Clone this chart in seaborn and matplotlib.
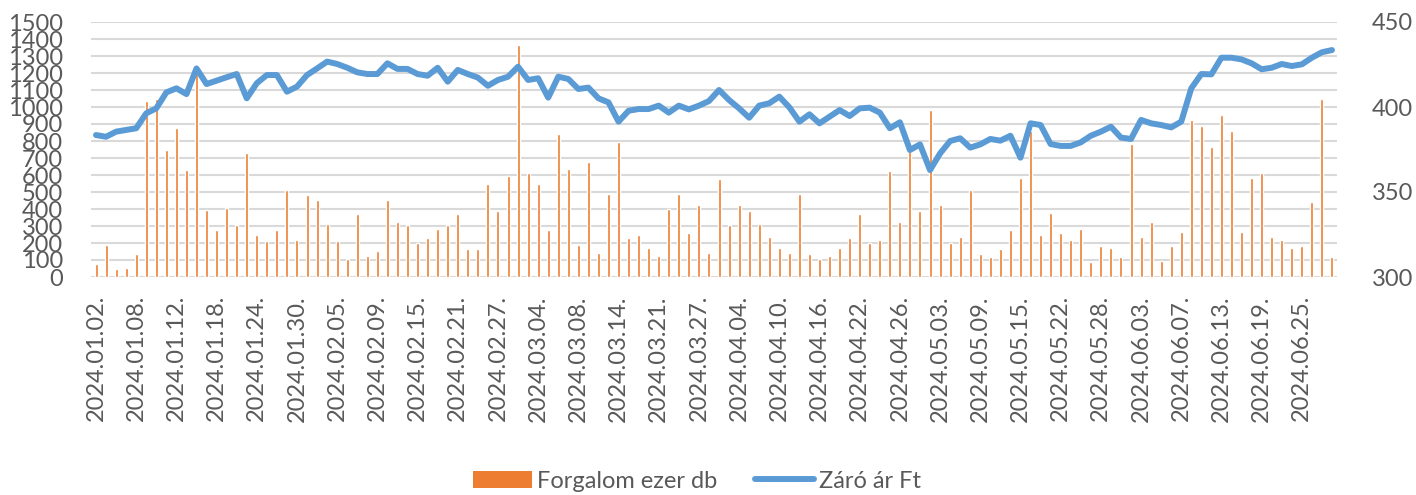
import numpy as np
import pandas as pd
import matplotlib
matplotlib.use("Agg")
import matplotlib.pyplot as plt
import seaborn as sns
from matplotlib.patches import Patch
from matplotlib.lines import Line2D

# ---- data ----
holidays = ["2024-01-01", "2024-03-15", "2024-03-29", "2024-04-01", "2024-05-01", "2024-05-20"]
days = pd.bdate_range("2024-01-02", "2024-06-28")
days = [d for d in days if d.strftime("%Y-%m-%d") not in holidays]
date_labels = [d.strftime("%Y.%m.%d.") for d in days]

volume = [75, 190, 50, 55, 135, 1035, 1045, 745, 875, 630, 1220, 395, 275, 405, 305, 728, 247, 210, 275, 512,
          218, 482, 453, 312, 210, 106, 369, 124, 153, 453, 322, 304, 200, 227, 284, 304, 369, 163, 163, 547, 388,
          594, 1365, 612, 547, 275, 839, 633, 190, 679, 143, 490, 792, 227, 247, 171, 125, 398, 490, 257, 426,
          143, 577, 304, 426, 388, 312, 237, 171, 143, 490, 133, 106, 124, 171, 227, 369, 200, 218, 624, 322, 740, 388,
          980, 426, 200, 237, 512, 133, 116, 163, 275, 584, 860, 247, 378, 257, 218, 284, 86, 182, 171, 116, 780,
          237, 322, 96, 182, 265, 924, 888, 765, 953, 859, 265, 584, 614, 237, 218, 171, 182, 443, 1045, 116]

price = [383.5, 382.5, 385.5, 386.5, 387.5, 396.3, 399.2, 408.6, 411.0, 407.6, 422.7, 413.5, 415.5, 417.5, 419.4, 405.1, 414.0, 418.8, 418.8, 409.0,
         412.0, 418.8, 422.7, 426.7, 425.3, 423.1, 420.4, 419.4, 419.4, 425.7, 422.4, 422.4, 419.4, 418.4, 423.1, 414.9, 421.8, 419.4, 417.3, 412.5, 415.9,
         417.8, 423.7, 415.9, 416.9, 405.5, 417.8, 416.5, 410.6, 411.4, 405.1, 402.7, 391.4, 397.8, 398.8, 398.8, 400.8, 396.7, 400.8, 398.6, 400.8,
         403.5, 410.0, 404.1, 399.2, 393.7, 400.8, 402.2, 406.1, 399.8, 391.4, 395.7, 390.4, 394.3, 398.2, 394.7, 399.2, 399.6, 396.7, 387.5, 391.0, 374.7, 378.0,
         362.9, 372.7, 380.0, 381.6, 376.1, 378.0, 381.2, 380.2, 383.1, 370.2, 390.4, 389.4, 378.2, 377.1, 377.1, 379.2, 383.1, 385.5, 388.4, 382.0, 381.2,
         392.4, 390.4, 389.4, 388.0, 391.4, 411.0, 419.4, 419.2, 429.0, 429.0, 428.0, 425.7, 422.2, 423.1, 425.3, 424.1, 425.1, 429.0, 432.2, 433.5]

bar_label = "Forgalom ezer db"
line_label = "Záró ár Ft"
left_ticks = list(range(0, 1501, 100))
right_ticks = [300, 350, 400, 450]

# ---- style ----
sns.set_style("white")
plt.rcParams["font.family"] = ["Lato", "DejaVu Sans"]
TXT = "#595959"
ORANGE = "#ED7D31"
BLUE = "#5B9BD5"
FS = 17

W, H = 1416, 495
fig = plt.figure(figsize=(W / 100, H / 100), dpi=100)
ax = fig.add_axes([91 / W, 1 - 277 / H, (1337 - 91) / W, (277 - 22) / H])

pos = np.arange(len(volume))
df = pd.DataFrame({"pos": pos, "volume": volume, "price": price})

sns.barplot(data=df, x="pos", y="volume", color=ORANGE, saturation=1, width=0.3, ax=ax)
ax.set_xlim(-0.5, len(volume) - 0.5)
ax.set_ylim(0, 1500)
ax.set_yticks(left_ticks)
ax.set_yticklabels([str(t) for t in left_ticks])
ax.set_xticks(pos[::4])
ax.set_xticklabels(date_labels[::4], rotation=90)
ax.set_xlabel("")
ax.set_ylabel("")
ax.yaxis.grid(True, color="#D9D9D9", linewidth=1.5)
ax.set_axisbelow(True)
ax.tick_params(axis="y", length=0, pad=20, labelsize=FS, labelcolor=TXT)
ax.tick_params(axis="x", length=0, pad=13, labelsize=FS, labelcolor=TXT)
for s in ax.spines.values():
    s.set_visible(False)

ax2 = ax.twinx()
sns.lineplot(data=df, x="pos", y="price", color=BLUE, linewidth=4.3, ax=ax2,
             solid_capstyle="round", solid_joinstyle="round")
ax2.set_ylim(300, 450)
ax2.set_yticks(right_ticks)
ax2.set_yticklabels([str(t) for t in right_ticks])
ax2.set_ylabel("")
ax2.set_xlim(-0.5, len(volume) - 0.5)
ax2.tick_params(axis="y", length=0, pad=25, labelsize=FS, labelcolor=TXT)
for s in ax2.spines.values():
    s.set_visible(False)

handles = [Patch(facecolor=ORANGE, edgecolor="none"),
           Line2D([0], [0], color=BLUE, linewidth=4.3, solid_capstyle="round")]
leg = fig.legend(handles, [bar_label, line_label], loc="center", bbox_to_anchor=(697 / W, 1 - 481 / H),
                 ncol=2, frameon=False, fontsize=FS, handlelength=2.5, handletextpad=0.2,
                 columnspacing=1.6)
for t in leg.get_texts():
    t.set_color(TXT)

fig.savefig("out.png", dpi=100)
